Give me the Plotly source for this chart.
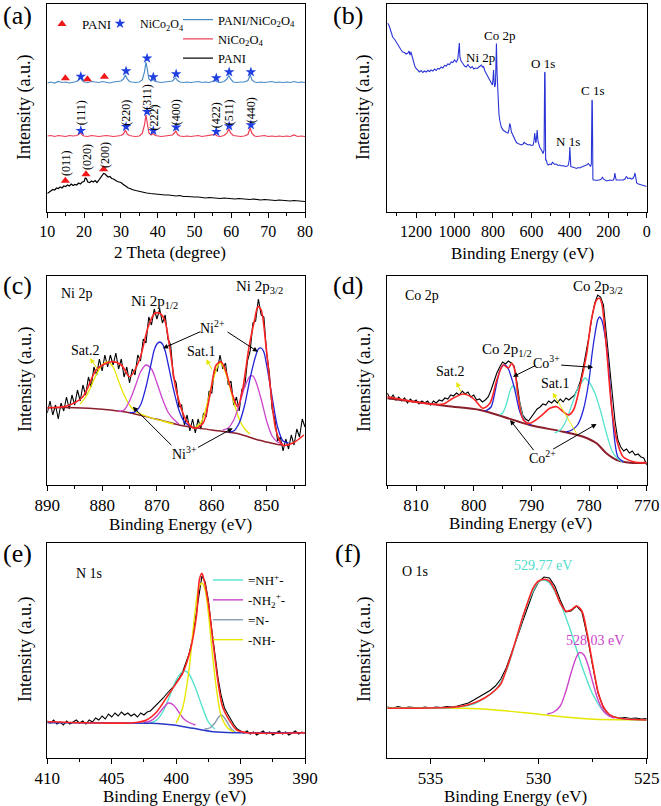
import plotly.graph_objects as go

SERIF = "Liberation Serif"

# ---------------- (a) XRD ----------------
a_theta = [10, 11, 12, 13, 14, 15, 16, 17, 18, 18.5, 19, 19.5, 20, 21, 22, 23, 24, 25, 26, 27, 28, 29, 30,
           30.7, 31.2, 31.7, 32.3, 33, 34, 35, 35.8, 36.4, 36.8, 37.2, 37.6, 38.2, 38.7, 39.3, 40, 41, 42, 43, 44,
           44.5, 44.9, 45.4, 46, 47, 48, 49, 50, 51, 52, 53, 54, 55, 55.6, 56.2, 57, 58, 58.8, 59.3, 59.8, 60.5,
           61.5, 62.5, 63.5, 64.5, 65.1, 65.6, 66.3, 67, 68, 69, 70, 71, 72, 73, 74, 75, 76, 77, 78, 79, 80]
a_composite = [129, 130, 129, 130.5, 129.5, 130, 129, 130, 130.5, 132, 134, 131.5, 130, 129.5, 130.5, 130, 129.5,
               130.5, 130, 129, 130, 130.5, 131, 133, 137, 133, 130.5, 130, 129.5, 130, 132, 140, 150, 142, 133,
               131, 132.5, 130.5, 130, 129.5, 130, 130.5, 131, 133, 134, 131.5, 130, 129.5, 130, 129.5, 130, 130.5,
               129.5, 130, 129.5, 130.5, 131.5, 130, 129.5, 130.5, 133, 136.5, 133, 130, 129.5, 130, 130, 131.5,
               137, 132, 130, 129.5, 130, 129.5, 130, 130.5, 129.5, 130, 129.5, 130, 129.5, 130.5, 129.5, 130, 129.5]
a_nico = [76, 76.5, 75.5, 76.5, 76, 75.5, 76.5, 76, 76.5, 77.5, 79.5, 77, 76, 75.5, 76.5, 76, 75.5, 76, 76.5, 76,
          75.5, 76, 76.5, 78, 82, 78, 76.5, 76, 75.5, 76, 78.5, 87, 97, 88, 79, 77, 78.5, 76.5, 76, 75.5, 76, 76.5,
          77, 79, 81, 77.5, 76, 75.5, 76, 75.5, 76, 76.5, 75.5, 76, 76.5, 76.5, 77.5, 76, 75.5, 76.5, 79, 83, 79,
          76.5, 76, 75.5, 76, 77.5, 84, 78.5, 76, 75.5, 76, 76.5, 75.5, 76, 75.5, 76, 75.5, 76, 75.5, 77, 75.5, 76,
          75.5]
a_pani_theta = [10, 10.5, 11, 11.5, 12, 12.5, 13, 13.5, 14, 14.5, 15, 15.5, 16, 16.5, 17, 17.5, 18, 18.5, 19, 19.5,
                20, 20.3, 20.6, 21, 21.5, 22, 22.5, 23, 23.5, 24, 24.5, 25, 25.3, 25.7, 26, 26.5, 27, 27.5, 28, 28.5,
                29, 29.5, 30, 30.5, 31, 31.5, 32, 32.5, 33, 34, 35, 36, 37, 38, 39, 40, 41, 42, 43, 44, 45, 46, 47,
                48, 49, 50, 51, 52, 53, 54, 55, 56, 57, 58, 59, 60, 61, 62, 63, 64, 65, 66, 67, 68, 69, 70, 71, 72,
                73, 74, 75, 76, 77, 78, 79, 80]
a_pani = [18.5, 20, 21, 22.5, 22, 24, 23.5, 25, 24, 26, 25.5, 27, 26, 28, 26.5, 27.5, 27, 29, 28, 30, 30.5, 34,
          33.5, 30, 29.5, 31, 30, 31.5, 29.5, 32, 34, 36, 38.5, 38, 36.5, 35, 35.5, 33.5, 33, 31.5, 30.5, 30, 29.5,
          28, 26.5, 25, 24, 23.5, 22.5, 21.5, 20.5, 20, 19, 18.5, 18, 18, 17.5, 17, 17, 16.5, 16, 16.5, 15.5, 15.5,
          15, 15, 15, 14.5, 14, 14.5, 14, 14, 13.5, 14, 13.5, 13.5, 13, 13.5, 13, 13, 12.5, 13, 12.5, 12, 12.5, 12,
          12, 11.5, 12, 11.5, 11.5, 11, 11.5, 11, 11, 10.5]
a_tri_theta = [14.9, 20.9, 25.5, 14.9, 20.5, 25.3]
a_tri_int = [133.7, 132.7, 135.3, 31.3, 37.7, 42.7]
a_star_theta = [19.1, 31.4, 37.1, 38.8, 45.0, 55.9, 59.4, 65.3, 19.1, 31.4, 37.1, 38.8, 45.0, 55.9, 59.4, 65.3]
a_star_int = [135.5, 141, 153.7, 135, 138, 134, 140, 140, 81.3, 85.3, 100.3, 81.3, 84.7, 80.3, 86, 87]
a_hkl = ["(111)", "(220)", "(311)", "(222)", "(400)", "(422)", "(511)", "(440)", "(011)", "(020)", "(200)"]
a_hkl_theta = [19.1, 31.3, 37.0, 39.1, 45.0, 55.9, 59.4, 65.4, 15.1, 20.6, 25.5]
a_hkl_int = [99.5, 99, 115, 95, 100, 97, 100, 102, 49, 55.3, 57.3]

# ---------------- (b) XPS survey ----------------
b_ev = [1348, 1340, 1330, 1322, 1313, 1304, 1296, 1287, 1278, 1270, 1261, 1252, 1243, 1237, 1232, 1227, 1221,
        1214, 1207, 1200, 1191, 1183, 1174, 1165, 1157, 1148, 1139, 1130, 1122, 1113, 1104, 1096, 1087, 1078,
        1070, 1061, 1052, 1043, 1035, 1026, 1017, 1009, 1000, 991, 983, 978, 975, 972, 966, 957, 948, 939, 930,
        925, 917, 908, 900, 891, 882, 873, 866, 861, 855, 849, 842, 835, 826, 817, 810, 803, 800, 797, 794, 791,
        787, 784, 782, 779, 776, 772, 769, 765, 757, 748, 739, 730, 722, 717, 713, 709, 704, 696, 687, 678, 670,
        661, 652, 643, 638, 635, 626, 617, 609, 600, 591, 586, 583, 580, 577, 574, 570, 566, 561, 557, 548, 539,
        534, 531, 529, 526, 523, 518, 513, 504, 496, 490, 487, 478, 470, 461, 452, 443, 435, 426, 417, 412, 408,
        403, 400, 398, 395, 387, 378, 370, 365, 357, 348, 339, 330, 322, 313, 304, 298, 292, 288, 285, 283, 280,
        278, 270, 261, 252, 243, 236, 230, 226, 217, 209, 200, 191, 183, 174, 169, 166, 163, 159, 150, 139, 130,
        122, 113, 106, 103, 98, 87, 78, 70, 65, 61, 58, 55, 52, 43, 35, 26, 17, 9, 0]
b_int = [189, 186, 180, 175, 173, 170, 167, 164, 162, 160, 159.5, 158, 159, 161, 157, 160, 156, 150, 146, 143.5,
         141, 140, 141.5, 139.5, 141, 140, 141.5, 140.5, 142, 141, 143, 141.5, 143.5, 143, 145, 144, 146.5, 146,
         148, 147.5, 150, 149.5, 152, 150, 153, 166, 169, 155, 151, 148.5, 146, 145, 147.5, 146, 144, 145.5, 143,
         144, 143.5, 145, 146.5, 147, 145, 145.5, 141, 138.5, 135, 132, 129, 127, 133, 142, 130, 125, 128, 166,
         168.5, 140, 122, 105, 98, 92, 85, 82, 80.5, 79.5, 79, 82, 88.5, 86, 80, 76.5, 72, 69.5, 68.5, 67.5, 67,
         68, 70, 69, 68, 67, 67.5, 66.5, 67, 72, 79, 70, 69, 73, 82, 71, 66, 65, 62, 58.5, 62, 140, 139, 52, 52,
         48.5, 47, 48, 47.5, 50, 49, 47.5, 48, 46.5, 47, 46, 46.5, 45.5, 45.5, 46, 47, 52, 65, 60, 45.5, 45, 44.5,
         44, 43.5, 44.5, 44, 45, 45.5, 46, 47, 48.5, 47, 45.5, 48, 112, 111, 33, 32, 32, 31.5, 32, 32, 33, 35, 33,
         31.5, 31, 31.5, 32, 31.5, 32, 34, 39, 36, 32, 32, 32, 31.5, 32, 33, 35.5, 35, 33.5, 34, 33, 34, 36, 39,
         36, 30, 29, 28, 27.5, 27, 26.5, 26, 25.5]
b_labels = ["Co 2p", "Ni 2p", "O 1s", "N 1s", "C 1s"]
b_label_ev = [765, 866, 539, 409, 282]
b_label_int = [177, 154.7, 148.7, 70.3, 121.3]

# ---------------- (c) Ni 2p ----------------
c_ev = [890, 889.5, 889, 888.5, 888, 887.5, 887, 886.5, 886, 885.5, 885, 884.5, 884, 883.5, 883, 882.5, 882,
        881.5, 881, 880.5, 880, 879.5, 879, 878.5, 878, 877.5, 877, 876.5, 876, 875.5, 875, 874.5, 874, 873.5,
        873, 872.5, 872, 871.5, 871, 870.5, 870, 869.5, 869, 868.5, 868, 867.5, 867, 866.5, 866, 865.5, 865,
        864.5, 864, 863.5, 863, 862.5, 862, 861.5, 861, 860.5, 860, 859.5, 859, 858.5, 858, 857.5, 857, 856.5,
        856, 855.5, 855, 854.5, 854, 853.5, 853, 852.5, 852, 851.5, 851, 850.5, 850, 849.5, 849, 848.5, 848,
        847.5, 847, 846.5, 846, 845.5, 845, 844.5, 844, 843.5, 843]
c_raw = [72, 84, 70, 80, 66, 82, 74, 88, 76, 90, 80, 95, 84, 100, 90, 108, 98, 118, 110, 126, 114, 130, 118, 130,
         120, 132, 116, 126, 108, 118, 102, 116, 110, 130, 124, 146, 142, 168, 160, 176, 166, 176, 162, 170, 146,
         140, 108, 102, 78, 80, 60, 70, 54, 66, 52, 66, 56, 72, 68, 94, 92, 116, 114, 130, 116, 122, 100, 104, 80,
         88, 74, 96, 98, 124, 134, 162, 164, 186, 170, 168, 132, 112, 76, 66, 44, 48, 34, 46, 36, 50, 40, 56, 48,
         66, 58]
c_fit_ev = [890, 886.5, 883.5, 881.0, 878.3, 876.5, 875.0, 873.2, 871.6, 870.4, 869.5, 868.6, 867.7, 866.5, 864.7,
            863.2, 861.6, 860.4, 859.2, 858.3, 857.4, 856.2, 855.3, 854.4, 853.2, 852.2, 851.6, 851.0, 850.1,
            849.2, 848.3, 847.1, 845.3, 843.2]
c_fit = [77.3, 79, 88.3, 115.7, 123.3, 120, 108.3, 125, 158.3, 171.7, 171.7, 165, 138.3, 95, 65, 56.7, 61.7, 88.3,
         120, 123.3, 113.3, 90, 78.3, 95, 138.3, 165, 178.3, 175, 138.3, 91.7, 55, 40, 41.7, 50]
c_bg_ev = [890, 885, 880, 875, 870, 865, 860, 855, 852, 850, 848, 847]
c_bg = [77.3, 77.3, 75.7, 72.3, 65.7, 59, 55, 51, 45.7, 43, 40.5, 40]
c_ni2_a_ev = [875, 874, 873, 872, 871, 870.5, 870, 869.5, 869, 868.5, 868, 867, 866, 865, 864]
c_ni2_a = [72.5, 73, 80, 98, 123, 135, 141, 143, 141, 134, 122, 96, 75, 63, 59]
c_ni3_a_ev = [877, 876, 875, 874, 873, 872, 871, 870, 869, 868, 867, 866]
c_ni3_a = [73.5, 75, 84, 98, 113, 120, 116, 102, 86, 73, 66, 61]
c_ni2_b_ev = [857, 856, 855, 854, 853, 852, 851.5, 851, 850.5, 850, 849, 848, 847, 846]
c_ni2_b = [53, 54, 62, 80, 107, 129, 136, 137, 133, 120, 88, 58, 44, 42]
c_ni3_b_ev = [858, 857, 856, 855, 854, 853, 852.5, 852, 851, 850, 849, 848, 847]
c_ni3_b = [55, 57, 65, 80, 98, 109, 109, 104, 86, 64, 49, 43, 41]
c_sat2_ev = [884, 883, 882, 881, 880, 879, 878, 877, 876, 875, 874, 873, 871, 869, 867]
c_sat2 = [81, 88, 99, 111, 120, 123, 118, 104, 90, 80, 74, 71, 67, 64, 61]
c_sat1_ev = [863, 862, 861, 860, 859, 858.5, 858, 857, 856, 855, 854, 853]
c_sat1 = [58, 62, 78, 100, 118, 122, 119, 104, 83, 66, 56, 51]

# ---------------- (d) Co 2p ----------------
d_ev = [815, 814.5, 814, 813.5, 813, 812.5, 812, 811.5, 811, 810.5, 810, 809.5, 809, 808.5, 808, 807.5, 807,
        806.5, 806, 805.5, 805, 804.5, 804, 803.5, 803, 802.5, 802, 801.5, 801, 800.5, 800, 799.5, 799, 798.5,
        798, 797.5, 797, 796.5, 796, 795.5, 795, 794.5, 794, 793.5, 793, 792.5, 792, 791.5, 791, 790.5, 790,
        789.5, 789, 788.5, 788, 787.5, 787, 786.5, 786, 785.5, 785, 784.5, 784, 783.5, 783, 782.5, 782, 781.5,
        781, 780.5, 780, 779.5, 779, 778.5, 778, 777.5, 777, 776.5, 776, 775.5, 775, 774.5, 774, 773.5, 773,
        772.5, 772, 771.5, 771, 770.5, 770]
d_raw = [92, 86, 90, 85, 88, 84, 87, 82, 86, 83, 85, 81, 84, 82, 84, 80, 84, 82, 85, 84, 87, 86, 90, 89, 92, 90,
         94, 91, 93, 88, 90, 85, 86, 83, 85, 88, 95, 104, 112, 118, 123, 121, 124, 122, 119, 102, 82, 70, 66, 64,
         68, 72, 76, 78, 81, 80, 84, 82, 85, 82, 86, 83, 87, 85, 88, 90, 96, 104, 118, 132, 149, 168, 182, 190,
         188, 180, 150, 118, 90, 64, 45, 38, 34, 36, 32, 34, 30, 31, 28, 27, 20]
d_fit_ev = [815, 807.6, 805.3, 803.6, 801.8, 800.1, 798.4, 797.2, 796.0, 794.9, 794.0, 793.4, 792.9, 792.3,
            791.4, 790.3, 788.5, 786.8, 785.6, 784.5, 783.6, 782.7, 781.6, 780.4, 779.6, 778.7, 778.2, 777.8,
            777.0, 776.1, 775.2, 774.1, 772.3, 770]
d_fit = [88.3, 81, 81, 86.7, 91, 86.7, 76.7, 81.7, 105, 120, 117, 121.7, 115, 88.3, 65, 61.7, 68.3, 76.7, 78.3,
         73.3, 70, 75, 98.3, 131.7, 165, 185, 186.7, 181.7, 138.3, 78.3, 45, 28.3, 23.3, 22.3]
d_bg_ev = [815, 804.7, 798.9, 794.9, 790.3, 784.5, 781, 778.7, 777, 775.2, 772.9, 770]
d_bg = [86.7, 79, 75, 68.3, 60, 53.3, 48.3, 41.7, 31.7, 25, 22.3, 22.3]
d_co3_a_ev = [798, 797, 796.5, 796, 795.5, 795, 794.6, 794, 793.5, 793, 792.5, 792, 791, 790]
d_co3_a = [74, 78, 88, 102, 114, 119, 120, 116, 108, 98, 85, 73, 63, 60]
d_co2_a_ev = [795.5, 795, 794.5, 794, 793.6, 793.2, 792.8, 792.3, 791.8, 791.3, 790.5]
d_co2_a = [70, 72, 78, 88, 96, 99, 97, 88, 75, 65, 61]
d_co3_b_ev = [784, 783, 782, 781, 780, 779.5, 779, 778.5, 778.2, 777.8, 777, 776.5, 776, 775.5, 775, 774]
d_co3_b = [53, 55, 60, 75, 105, 130, 150, 165, 168, 165, 140, 110, 72, 42, 28, 23]
d_co2_b_ev = [786, 785, 784, 783, 782, 781, 780.7, 780, 779, 778, 777, 776, 775, 774]
d_co2_b = [52, 55, 64, 80, 96, 105, 107, 103, 92, 74, 52, 34, 26, 23]

# ---------------- (e) N 1s ----------------
e_ev = [410, 409.75, 409.5, 409.25, 409, 408.75, 408.5, 408.25, 408, 407.75, 407.5, 407.25, 407, 406.75, 406.5,
        406.25, 406, 405.75, 405.5, 405.25, 405, 404.75, 404.5, 404.25, 404, 403.75, 403.5, 403.25, 403, 402.75,
        402.5, 402.25, 402, 401.75, 401.5, 401.25, 401, 400.75, 400.5, 400.25, 400, 399.75, 399.5, 399.25, 399,
        398.75, 398.5, 398.25, 398, 397.75, 397.5, 397.25, 397, 396.75, 396.5, 396.25, 396, 395.75, 395.5,
        395.25, 395, 394.75, 394.5, 394.25, 394, 393.75, 393.5, 393.25, 393, 392.75, 392.5, 392.25, 392, 391.75,
        391.5, 391.25, 391, 390.75, 390.5, 390.25, 390]
e_raw = [37, 35, 38, 34, 36, 33, 37, 34, 36, 38, 35, 37, 34, 38, 36, 40, 38, 42, 39, 44, 41, 45, 42, 46, 43, 45,
         42, 44, 41, 45, 43, 46, 47, 50, 54, 57, 60, 64, 67, 71, 76, 80, 86, 94, 104, 118, 138, 162, 182, 176,
         158, 130, 104, 80, 62, 50, 44, 38, 33, 29, 27, 25, 27, 24, 26, 23, 25, 27, 24, 26, 23, 25, 27, 24, 26,
         23, 25, 27, 24, 26, 25]
e_fit_ev = [410, 403.3, 402.3, 401.5, 400.7, 400, 399.5, 398.9, 398.4, 398.2, 398.0, 397.9, 397.5, 397.1, 396.7,
            396.4, 395.8, 395.3, 394.5, 390]
e_fit = [36.3, 35.3, 38, 46.3, 61.3, 74.7, 84.7, 108, 144.7, 178, 184.7, 181.3, 154.7, 111.3, 71.3, 51.3, 36.3,
         28, 25.3, 25.3]
e_bg_ev = [410, 402, 400.2, 398.7, 397.1, 395.6, 390]
e_bg = [35.3, 34.7, 33, 29.7, 26.3, 25.3, 25.3]
e_nh_plus_ev = [402, 401.5, 401, 400.5, 400, 399.5, 399.3, 399, 398.5, 398, 397.5, 397]
e_nh_plus = [35, 38, 47, 62, 78, 86.5, 87, 84, 70, 52, 36, 29]
e_nh2_ev = [402.5, 402, 401.5, 401, 400.6, 400.2, 399.8, 399.4, 399, 398.5]
e_nh2 = [35.5, 37, 42, 50, 55, 53, 46, 39, 35.5, 33]
e_n_ev = [397.8, 397.4, 397, 396.7, 396.5, 396.3, 396, 395.7, 395.4]
e_n = [29, 30, 35, 41, 43, 41, 35, 29, 26]
e_nh_ev = [400, 399.5, 399, 398.75, 398.5, 398.25, 398, 397.75, 397.5, 397.25, 397, 396.75, 396.5, 396, 395.5]
e_nh = [35, 50, 88, 120, 150, 170, 175, 168, 145, 112, 82, 58, 42, 30, 26]
e_names = ["=NH<sup>+</sup>-", "-NH<sub>2</sub><sup>+</sup>-", "=N-", "-NH-"]

# ---------------- (f) O 1s ----------------
f_ev = [537, 536.75, 536.5, 536.25, 536, 535.75, 535.5, 535.25, 535, 534.75, 534.5, 534.25, 534, 533.75, 533.5,
        533.25, 533, 532.75, 532.5, 532.25, 532, 531.75, 531.5, 531.25, 531, 530.75, 530.5, 530.25, 530, 529.75,
        529.5, 529.25, 529, 528.75, 528.5, 528.25, 528, 527.75, 527.5, 527.25, 527, 526.75, 526.5, 526.25, 526,
        525.75, 525.5, 525.25, 525]
f_raw = [51, 50, 51.5, 50, 51, 50.5, 50, 51, 50, 51, 50.5, 51.5, 51, 52, 53.5, 55, 58, 61, 64, 67.5, 72, 79, 90,
         104, 120, 136, 152, 166, 176, 181, 180, 172, 158, 146, 147, 152, 146, 122, 92, 65, 50, 43, 41, 40, 40.5,
         39.5, 40, 39, 39.5]
f_fit_ev = [537, 535, 534, 533.5, 533, 532.5, 532, 531.75, 531.5, 531.25, 531, 530.75, 530.5, 530.25, 530,
            529.75, 529.5, 529.25, 529, 528.75, 528.5, 528.25, 528, 527.75, 527.5, 527.25, 527, 526.75, 526.5,
            526, 525]
f_fit = [49.7, 50, 50.8, 52, 55, 60, 68, 74, 88, 104, 122, 140, 156, 170, 177, 178.7, 177, 168, 155, 147, 148,
         152, 147, 124, 94, 66, 51, 44, 41, 39, 38]
f_bg_ev = [537, 533.5, 532, 530.4, 528.9, 527.4, 526, 525]
f_bg = [49.7, 49.7, 48, 44.7, 41.3, 38.7, 38.2, 38]
f_o1_ev = [537, 534, 533, 532.5, 532, 531.5, 531, 530.5, 530, 529.8, 529.5, 529, 528.5, 528, 527.5, 527, 526.5,
           526, 525]
f_o1 = [49.7, 50.5, 54, 60, 68, 87, 121, 155, 176, 178, 175, 155, 126, 92, 64, 47, 41, 39, 38]
f_o2_ev = [529.6, 529.3, 529, 528.75, 528.5, 528.25, 528.1, 527.9, 527.7, 527.5, 527.25, 527, 526.75, 526.5]
f_o2 = [44, 46, 52, 66, 85, 101, 105.5, 103, 92, 76, 58, 47, 42, 40]

# ---------------- styling ----------------
BLACK = "black"
RED = "#ff2424"
BROWN = "#8b1e2b"
BLUE = "#2424d8"
MAG = "#cc44cc"
YEL = "#e6e600"
CYAN = "#55e3cc"
GRAY = "#8a9bb0"

fig = go.Figure()


def line(x, y, color, width, ax, shape="linear", name=None, legend=None, show=False):
    fig.add_trace(go.Scatter(
        x=x, y=y, mode="lines", name=name, showlegend=show, legend=legend,
        line=dict(color=color, width=width, shape=shape, smoothing=0.8 if shape == "spline" else None),
        xaxis="x" + ("" if ax == 1 else str(ax)), yaxis="y" + ("" if ax == 1 else str(ax)),
        hoverinfo="skip"))


# (a)
line(a_theta, a_composite, "#4a8bc4", 1.2, 1, name="PANI/NiCo<sub>2</sub>O<sub>4</sub>", legend="legend2", show=True)
line(a_theta, a_nico, "#ec3c55", 1.2, 1, name="NiCo<sub>2</sub>O<sub>4</sub>", legend="legend2", show=True)
line(a_pani_theta, a_pani, BLACK, 1.2, 1, name="PANI", legend="legend2", show=True)
fig.add_trace(go.Scatter(x=a_tri_theta, y=a_tri_int, mode="markers", name="PANI", legend="legend3",
                         marker=dict(symbol="triangle-up", color="#f01818", size=8), xaxis="x", yaxis="y",
                         hoverinfo="skip"))
fig.add_trace(go.Scatter(x=a_star_theta, y=a_star_int, mode="markers", name="NiCo<sub>2</sub>O<sub>4</sub>",
                         legend="legend4", marker=dict(symbol="star", color="#1f3fe0", size=8),
                         xaxis="x", yaxis="y", hoverinfo="skip"))

# (b)
line(b_ev, b_int, "#2b35d6", 1.1, 2)

# (c)
line(c_ev, c_raw, BLACK, 1.1, 3)
line(c_bg_ev, c_bg, BROWN, 1.5, 3, "spline")
line(c_sat2_ev, c_sat2, YEL, 1.3, 3, "spline")
line(c_sat1_ev, c_sat1, YEL, 1.3, 3, "spline")
line(c_ni3_a_ev, c_ni3_a, MAG, 1.3, 3, "spline")
line(c_ni3_b_ev, c_ni3_b, MAG, 1.3, 3, "spline")
line(c_ni2_a_ev, c_ni2_a, BLUE, 1.3, 3, "spline")
line(c_ni2_b_ev, c_ni2_b, BLUE, 1.3, 3, "spline")
line(c_fit_ev, c_fit, RED, 1.6, 3, "spline")

# (d)
line(d_ev, d_raw, BLACK, 1.1, 4)
line(d_bg_ev, d_bg, BROWN, 2, 4, "spline")
line(d_co2_a_ev, d_co2_a, CYAN, 1.3, 4, "spline")
line(d_co2_b_ev, d_co2_b, CYAN, 1.3, 4, "spline")
line(d_co3_a_ev, d_co3_a, BLUE, 1.3, 4, "spline")
line(d_co3_b_ev, d_co3_b, BLUE, 1.3, 4, "spline")
line(d_fit_ev, d_fit, RED, 1.6, 4, "spline")

# (e)
line(e_ev, e_raw, BLACK, 1.1, 5)
line(e_nh_plus_ev, e_nh_plus, CYAN, 1.4, 5, "spline", name=e_names[0], legend="legend", show=True)
line(e_nh2_ev, e_nh2, MAG, 1.4, 5, "spline", name=e_names[1], legend="legend", show=True)
line(e_n_ev, e_n, GRAY, 1.4, 5, "spline", name=e_names[2], legend="legend", show=True)
line(e_nh_ev, e_nh, YEL, 1.4, 5, "spline", name=e_names[3], legend="legend", show=True)
line(e_bg_ev, e_bg, "#2a3ac8", 1.5, 5, "spline")
line(e_fit_ev, e_fit, RED, 1.6, 5, "spline")

# (f)
line(f_ev, f_raw, BLACK, 1.1, 6)
line(f_bg_ev, f_bg, YEL, 1.4, 6, "spline")
line(f_o1_ev, f_o1, CYAN, 1.4, 6, "spline")
line(f_o2_ev, f_o2, MAG, 1.4, 6, "spline")
line(f_fit_ev, f_fit, RED, 1.6, 6, "spline")

# ---------------- axes ----------------
W, H = 661, 806
XL = [47.3 / W, 305 / W]
XR = [387.3 / W, 646.7 / W]
YA = [1 - 212 / H, 1 - 4 / H]
YC = [1 - 485 / H, 1 - 276 / H]
YE = [1 - 758 / H, 1 - 543 / H]

panels = [
    (XL, YA, [10, 80], 10, 5, 16, [0, 208]),
    (XR, YA, [1350, 0], 200, 100, 16, [0, 208]),
    (XL, YC, [890, 843], 10, 5, 17, [0, 209]),
    (XR, YC, [815, 770], 10, 5, 17, [0, 209]),
    (XL, YE, [410, 390], 5, 2.5, 17, [0, 215]),
    (XR, YE, [537, 525], 5, 2.5, 17, [0, 215]),
]
for i, (dx, dy, xr, dt, mn, fs, yr) in enumerate(panels, start=1):
    sfx = "" if i == 1 else str(i)
    fig.update_layout(**{
        "xaxis" + sfx: dict(domain=dx, range=xr, anchor="y" + sfx, showline=True, mirror=True,
                            linecolor="black", linewidth=1, ticks="outside", ticklen=5, tickwidth=1,
                            tickcolor="black", tick0=0, dtick=dt, showgrid=False, zeroline=False,
                            tickfont=dict(family=SERIF, size=fs, color="black"), ticklabelstandoff=0,
                            automargin=False,
                            minor=dict(dtick=mn, ticks="outside", ticklen=3, tickwidth=1, tickcolor="black",
                                       showgrid=False)),
        "yaxis" + sfx: dict(domain=dy, range=yr, anchor="x" + sfx, showline=True, mirror=True,
                            linecolor="black", linewidth=1, ticks="", showticklabels=False,
                            showgrid=False, zeroline=False, automargin=False),
    })

ann = []


def txt(x, y, t, ax, size=14, color="black", angle=0, xanchor="center"):
    sfx = "" if ax == 1 else str(ax)
    ann.append(dict(x=x, y=y, xref="x" + sfx, yref="y" + sfx, text=t, showarrow=False, textangle=angle,
                    xanchor=xanchor, yanchor="middle", font=dict(family=SERIF, size=size, color=color)))


def arrow(tail, head, ax, color="black"):
    sfx = "" if ax == 1 else str(ax)
    ann.append(dict(x=head[0], y=head[1], ax=tail[0], ay=tail[1], xref="x" + sfx, yref="y" + sfx,
                    axref="x" + sfx, ayref="y" + sfx, text="", showarrow=True, arrowhead=2,
                    arrowsize=1, arrowwidth=1, arrowcolor=color, standoff=0, startstandoff=0))


def paper(x, y, t, size, angle=0):
    ann.append(dict(x=x / W, y=1 - y / H, xref="paper", yref="paper", text=t, showarrow=False,
                    xanchor="center", yanchor="middle", borderpad=0,
                    textangle=angle, font=dict(family=SERIF, size=size, color="black")))


# panel letters
for lab, px, py in [("(a)", 17, 15), ("(b)", 348, 15), ("(c)", 17, 285), ("(d)", 348, 285),
                    ("(e)", 17, 553), ("(f)", 348, 553)]:
    paper(px, py, lab, 26)

# axis titles
paper(170, 252, "2 Theta (degree)", 17)
paper(522, 253, "Binding Energy (eV)", 17)
paper(180, 524, "Binding Energy (eV)", 17)
paper(520, 523, "Binding Energy (eV)", 17)
paper(175, 796, "Binding Energy (eV)", 17)
paper(515, 796, "Binding Energy (eV)", 17)
for yc in [108, 380, 650]:
    paper(25, yc, "Intensity (a.u.)", 18, -90)
    paper(364, yc, "Intensity (a.u.)", 18, -90)

# (a) hkl labels
for t, x, y in zip(a_hkl, a_hkl_theta, a_hkl_int):
    txt(x, y, t, 1, size=12, angle=-90)

# (b) peak labels
for t, x, y in zip(b_labels, b_label_ev, b_label_int):
    txt(x, y, t, 2, size=13)

# (c)
txt(887.8, 191.7, "Ni 2p", 3, size=14, xanchor="left")
txt(870.4, 183.3, "Ni 2p<sub>1/2</sub>", 3, size=15)
txt(851.3, 198.3, "Ni 2p<sub>3/2</sub>", 3, size=15)
txt(859.8, 158.3, "Ni<sup>2+</sup>", 3, size=14)
txt(865.0, 31.7, "Ni<sup>3+</sup>", 3, size=14)
txt(883.2, 135, "Sat.2", 3, size=14)
txt(862.0, 133.3, "Sat.1", 3, size=14)
arrow((861.8, 154), (868.9, 136.7), 3)
arrow((857.4, 154), (851.6, 133.3), 3)
arrow((867.1, 38.3), (874.4, 78.3), 3)
arrow((862.8, 36.7), (856.2, 56.7), 3)
arrow((880.6, 114), (882.2, 126.7), 3, YEL)
arrow((859.8, 114), (861.0, 125.7), 3, YEL)

# (d)
txt(812.3, 190, "Co 2p", 4, size=14, xanchor="left")
txt(794.3, 135, "Co 2p<sub>1/2</sub>", 4, size=15)
txt(778.4, 198.3, "Co 2p<sub>3/2</sub>", 4, size=15)
txt(787.4, 123.3, "Co<sup>3+</sup>", 4, size=14)
txt(788.0, 28.3, "Co<sup>2+</sup>", 4, size=14)
txt(804.1, 113.3, "Sat.2", 4, size=14)
txt(785.9, 101.7, "Sat.1", 4, size=14)
arrow((789.1, 120), (793.2, 108.3), 4)
arrow((785.1, 120), (779.3, 117.7), 4)
arrow((789.4, 33.3), (793.7, 65), 4)
arrow((786.5, 35), (778.7, 61), 4)
arrow((802.1, 91.7), (803.0, 103), 4, YEL)
arrow((782.0, 50), (786.3, 92.3), 4, YEL)

# (e)
txt(407.9, 184.7, "N 1s", 5, size=14, xanchor="left")

# (f)
txt(536.4, 186.3, "O 1s", 6, size=14, xanchor="left")
txt(529.8, 193, "529.77 eV", 6, size=14, color="#4fdccc")
txt(527.4, 118, "528.03 eV", 6, size=14, color="#cc44cc")

common_leg = dict(xanchor="left", yanchor="top", bgcolor="rgba(0,0,0,0)", itemwidth=30, tracegroupgap=0)
fig.update_layout(
    width=W, height=H, margin=dict(l=0, r=0, t=0, b=0, autoexpand=False),
    paper_bgcolor="white", plot_bgcolor="white",
    annotations=ann,
    legend=dict(x=208 / W, y=1 - 565 / H, font=dict(family=SERIF, size=13, color="black"), **common_leg),
    legend2=dict(x=178 / W, y=1 - 5 / H, font=dict(family=SERIF, size=12.5, color="black"), **common_leg),
    legend3=dict(x=42 / W, y=1 - 9 / H, font=dict(family=SERIF, size=13, color="black"), **common_leg),
    legend4=dict(x=100 / W, y=1 - 9 / H, font=dict(family=SERIF, size=12, color="black"), **common_leg),
)

fig.write_html("out.html", config={"displayModeBar": False},
               post_script="document.body.style.margin='0';document.body.style.padding='0';"
                           "document.documentElement.style.overflow='hidden';")
